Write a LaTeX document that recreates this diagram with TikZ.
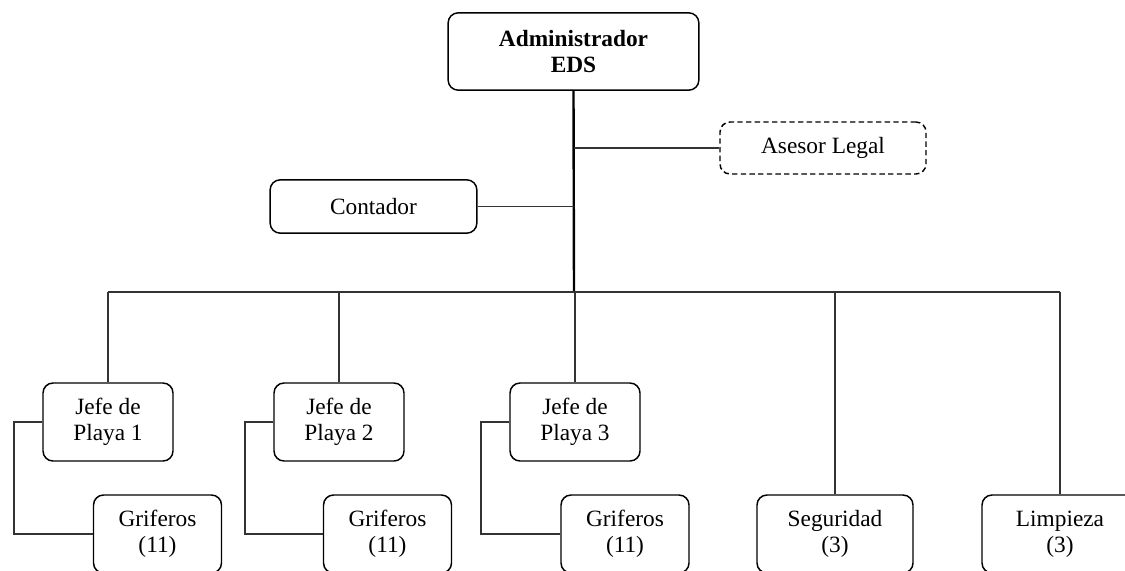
\documentclass[tikz,border=0pt]{standalone}
\usepackage{fontspec}
\setmainfont{Liberation Serif}
\begin{document}
\begin{tikzpicture}[x=0.75pt,y=-0.75pt,
  box/.style={draw=black, line width=1.1pt, rounded corners=7.5pt, align=center,
    font=\fontsize{17.5}{19.5}\selectfont, inner sep=0pt},
  dbox/.style={box, dashed, dash pattern=on 4pt off 2.5pt},
  conn/.style={draw=black!80, line width=0.8pt},
  mainline/.style={draw=black, line width=1.8pt}]
\useasboundingbox (0,0) rectangle (1125,571);
\clip (0,0) rectangle (1125,571);
% nodes
\node[box, font=\fontsize{17.5}{19.5}\selectfont\bfseries, minimum width=188pt, minimum height=58pt] (adm) at (573.5,51.5) {Administrador\\EDS};
\node[dbox, minimum width=154.5pt, minimum height=39pt] (ase) at (823,148) {Asesor Legal};
\node[box, minimum width=155pt, minimum height=40pt] (con) at (373.5,206.5) {Contador};
\node[box, minimum width=97.5pt, minimum height=58.5pt] (j1) at (108,422) {Jefe de\\Playa 1};
\node[box, minimum width=97.5pt, minimum height=58.5pt] (j2) at (339,422) {Jefe de\\Playa 2};
\node[box, minimum width=97.5pt, minimum height=58.5pt] (j3) at (575,422) {Jefe de\\Playa 3};
\node[box, minimum width=96pt, minimum height=58.5pt] (g1) at (157.5,534) {Griferos\\(11)};
\node[box, minimum width=96pt, minimum height=58.5pt] (g2) at (387.5,534) {Griferos\\(11)};
\node[box, minimum width=96pt, minimum height=58.5pt] (g3) at (625,534) {Griferos\\(11)};
\node[box, minimum width=117pt, minimum height=58.5pt] (seg) at (835,534) {Seguridad\\(3)};
\node[box, minimum width=117pt, minimum height=58.5pt] (lim) at (1060,534) {Limpieza\\(3)};
% coordinates
\coordinate (bus) at (574,292);
\coordinate (busL) at (108,292);
\coordinate (busR) at (1060,292);
\coordinate (b1) at (14,0);
\coordinate (b2) at (245,0);
\coordinate (b3) at (481,0);
% connectors
\draw[mainline] (adm.south) -- (bus);
\draw[conn] (ase.west) -- (ase.west -| bus);
\draw[conn] (con.east) -- (con.east -| bus);
\draw[conn] (busL) -- (busR);
\draw[conn] (busL) -- (j1.north);
\draw[conn] (j2.north |- bus) -- (j2.north);
\draw[conn] (j3.north |- bus) -- (j3.north);
\draw[conn] (seg.north |- bus) -- (seg.north);
\draw[conn] (busR) -- (lim.north);
\draw[conn] (j1.west) -- (j1.west -| b1) |- (g1.west);
\draw[conn] (j2.west) -- (j2.west -| b2) |- (g2.west);
\draw[conn] (j3.west) -- (j3.west -| b3) |- (g3.west);
\end{tikzpicture}
\end{document}
